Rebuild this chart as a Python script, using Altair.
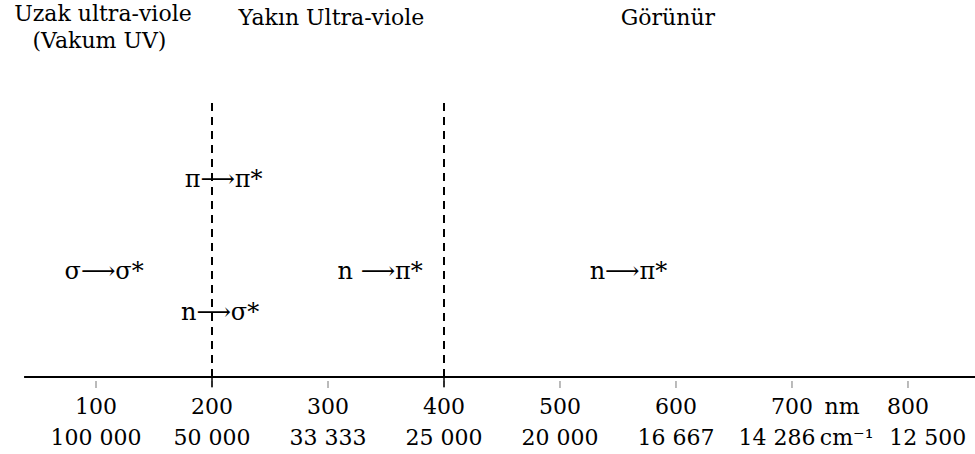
import altair as alt
import pandas as pd

# --- data ---
nm_ticks = [100, 200, 300, 400, 500, 600, 700, 800]
nm_labels = ["100", "200", "300", "400", "500", "600", "700", "800"]
wn_labels = ["100 000", "50 000", "33 333", "25 000", "20 000", "16 667", "14 286", "12 500"]
wn_label_x = [100, 200, 300, 400, 500, 600, 687, 817]
boundaries = [200, 400]

header_text = ["Uzak ultra-viole", "(Vakum UV)", "Yakın Ultra-viole", "Görünür"]
header_x = [106, 103, 303, 593]
header_y = [363, 336, 359, 359]

trans_text = ["σ⟶σ*", "π⟶π*", "n⟶σ*", "n ⟶π*", "n⟶π*"]
trans_x = [107, 210, 207, 345, 559]
trans_y = [105, 197, 64, 105, 105]

unit_text = ["nm", "cm⁻¹"]
unit_x = [728, 724]
unit_y = [-30, -61]

axis_start, axis_end = 38, 858
dash_top = 280

FONT = "DejaVu Serif"
FS = 22
FS_T = 24

xs = alt.Scale(domain=[17.24, 857.76], range=[0, 975])
ys = alt.Scale(domain=[-77, 377], range=[454, 0])
X = lambda f: alt.X(f, type="quantitative", scale=xs, axis=None)
Y = lambda f: alt.Y(f, type="quantitative", scale=ys, axis=None)

axis_df = pd.DataFrame({"x": [axis_start], "x2": [axis_end], "y": [0]})
axis_line = alt.Chart(axis_df).mark_rule(color="black", strokeWidth=2).encode(
    x=X("x"), x2="x2", y=Y("y"))

tick_df = pd.DataFrame({"x": nm_ticks, "y": [-4] * 8, "y2": [-11] * 8})
ticks = alt.Chart(tick_df).mark_rule(color="#777777", strokeWidth=1).encode(
    x=X("x"), y=Y("y"), y2="y2")

bnd_df = pd.DataFrame({"x": boundaries, "y": [0, 0], "y2": [dash_top, dash_top]})
dashed = alt.Chart(bnd_df).mark_rule(color="black", strokeWidth=2, strokeDash=[8, 6]).encode(
    x=X("x"), y=Y("y"), y2="y2")
bnd_tick_df = pd.DataFrame({"x": boundaries, "y": [8, 8], "y2": [-10, -10]})
bnd_ticks = alt.Chart(bnd_tick_df).mark_rule(color="black", strokeWidth=1.5).encode(
    x=X("x"), y=Y("y"), y2="y2")

def text_layer(df, size, align="center"):
    return alt.Chart(df).mark_text(font=FONT, fontSize=size, baseline="middle",
                                   align=align, color="black").encode(
        x=X("x"), y=Y("y"), text="t:N")

nm_text = text_layer(pd.DataFrame({"x": nm_ticks, "t": nm_labels, "y": [-30] * 8}), FS)
wn_text = text_layer(pd.DataFrame({"x": wn_label_x, "t": wn_labels, "y": [-61] * 8}), FS)
unit_marks = text_layer(pd.DataFrame({"x": unit_x, "t": unit_text, "y": unit_y}), FS, align="left")
hdr = text_layer(pd.DataFrame({"x": header_x, "t": header_text, "y": header_y}), FS)
tr = text_layer(pd.DataFrame({"x": trans_x, "t": trans_text, "y": trans_y}), FS_T)

chart = alt.layer(axis_line, ticks, dashed, bnd_ticks, nm_text, wn_text, unit_marks, hdr, tr).properties(
    width=975, height=454, padding=0, autosize=alt.AutoSizeParams(type="none"), background="white"
).configure_view(stroke=None)

chart.save("out.html", embed_options={"renderer": "svg", "actions": False})
